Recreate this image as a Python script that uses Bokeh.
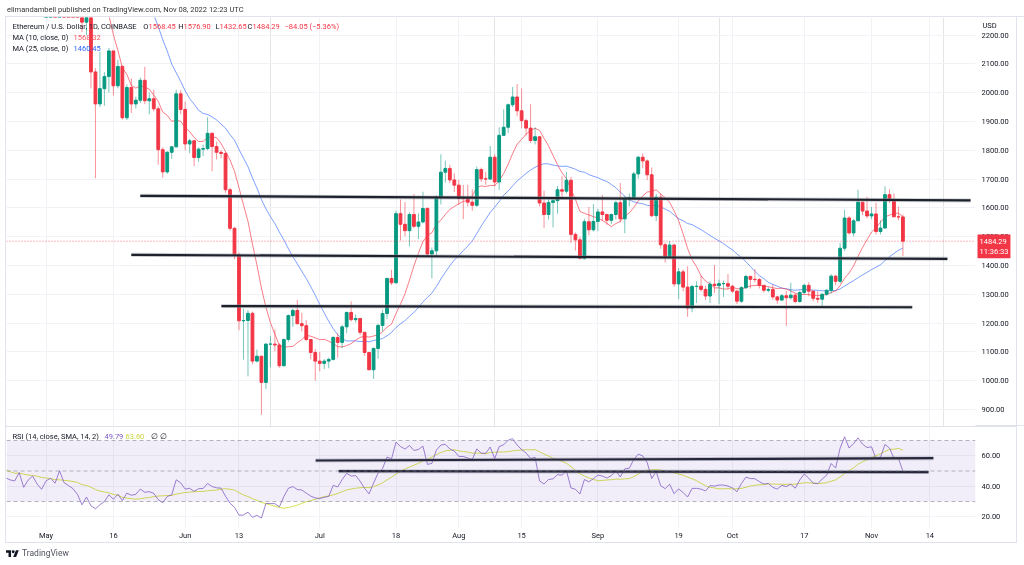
import numpy as np
import pandas as pd
from bokeh.plotting import figure
from bokeh.models import (ColumnDataSource, FixedTicker, NumeralTickFormatter, Span,
                          BoxAnnotation, Label, Div, Grid, Range1d)
from bokeh.layouts import column
from bokeh.embed import file_html
from bokeh.resources import INLINE

# ---------------- data ----------------
start_date = "2022-05-01"          # day 0 of the x axis
warmup_start = "2022-03-15"        # closes before the view, used by the indicators
warmup_closes = [2620, 2770, 2815, 2945, 2950, 2860, 2897, 2971, 3030, 3110, 3106, 3145, 3296, 3331, 3402, 3385, 3282,
                 3449, 3443, 3522, 3521, 3410, 3169, 3233, 3187, 3262, 3210, 2981, 3030, 3118, 3019, 3040, 3061,
                 2992, 3056, 3103, 3077, 2984, 2963, 2936, 2923, 3008, 2808, 2888, 2936, 2817, 2729]

may_close = [2826, 2857, 2783, 2940, 2749, 2695, 2636, 2518, 2245, 2343, 2072, 1961, 2014, 2056, 2145, 2024, 2091,
             1913, 2018, 1961, 1974, 2043, 1972, 1979, 1944, 1802, 1725, 1793, 1812, 1996, 1942]
may_high = [2838, 2887, 2866, 2955, 2955, 2755, 2707, 2640, 2520, 2450, 2440, 2085, 2142, 2071, 2155, 2145, 2114,
            2095, 2028, 2050, 1986, 2052, 2090, 2000, 2010, 1953, 1810, 1797, 1815, 2010, 2009]
may_low = [2715, 2780, 2760, 2780, 2705, 2630, 2590, 2490, 2210, 2200, 2015, 1703, 1950, 1955, 2000, 1990, 2015,
           1907, 1905, 1930, 1945, 1964, 1960, 1925, 1935, 1750, 1705, 1718, 1770, 1810, 1925]

jun_close = [1822, 1833, 1775, 1804, 1806, 1859, 1813, 1793, 1789, 1663, 1529, 1437, 1208, 1209, 1234, 1068, 1085,
             994, 1127, 1127, 1124, 1052, 1143, 1226, 1244, 1198, 1191, 1143, 1098, 1068]
jun_high = [1969, 1840, 1835, 1810, 1820, 1915, 1862, 1830, 1800, 1795, 1670, 1534, 1445, 1250, 1245, 1240, 1108,
            1086, 1130, 1156, 1178, 1130, 1146, 1230, 1250, 1280, 1236, 1210, 1145, 1110]
jun_low = [1800, 1790, 1745, 1760, 1780, 1800, 1727, 1768, 1772, 1652, 1521, 1422, 1175, 1073, 1015, 1057, 1064,
           881, 972, 1047, 1102, 1045, 1050, 1135, 1187, 1195, 1171, 1137, 1074, 1000]

jul_close = [1060, 1068, 1074, 1150, 1133, 1187, 1237, 1212, 1216, 1168, 1098, 1038, 1112, 1192, 1233, 1355, 1340,
             1580, 1543, 1521, 1577, 1536, 1551, 1598, 1440, 1451, 1636, 1724, 1737, 1697, 1679]
jul_high = [1100, 1075, 1080, 1155, 1165, 1193, 1240, 1275, 1230, 1218, 1168, 1100, 1115, 1198, 1247, 1358, 1385,
            1590, 1629, 1620, 1585, 1648, 1581, 1656, 1602, 1463, 1644, 1786, 1764, 1750, 1720]
jul_low = [1033, 1040, 1043, 1070, 1080, 1113, 1165, 1205, 1202, 1158, 1087, 1036, 1006, 1076, 1172, 1214, 1332,
           1337, 1487, 1501, 1466, 1530, 1492, 1546, 1430, 1355, 1432, 1612, 1688, 1686, 1655]

aug_close = [1633, 1632, 1620, 1609, 1733, 1701, 1700, 1776, 1690, 1852, 1880, 1958, 1985, 1937, 1903, 1877, 1834,
             1847, 1617, 1577, 1619, 1625, 1663, 1658, 1696, 1508, 1489, 1424, 1552, 1524, 1553]
aug_high = [1697, 1680, 1680, 1665, 1743, 1740, 1725, 1815, 1786, 1880, 1942, 1962, 2020, 2030, 2015, 1910, 1960,
            1880, 1847, 1660, 1630, 1630, 1676, 1710, 1725, 1708, 1515, 1500, 1562, 1603, 1613]
aug_low = [1610, 1561, 1605, 1590, 1604, 1690, 1680, 1698, 1675, 1662, 1850, 1860, 1950, 1918, 1878, 1852, 1825,
           1820, 1605, 1530, 1560, 1532, 1580, 1632, 1650, 1479, 1452, 1422, 1421, 1505, 1518]

sep_close = [1586, 1577, 1557, 1577, 1618, 1562, 1631, 1636, 1718, 1776, 1763, 1715, 1573, 1637, 1472, 1432, 1471,
             1336, 1378, 1325, 1252, 1327, 1328, 1317, 1294, 1335, 1330, 1337, 1337, 1328]
sep_high = [1597, 1645, 1580, 1580, 1625, 1687, 1640, 1650, 1725, 1780, 1789, 1768, 1740, 1648, 1650, 1480, 1485,
            1475, 1391, 1386, 1397, 1333, 1345, 1365, 1330, 1345, 1402, 1351, 1348, 1370]
sep_low = [1520, 1555, 1541, 1543, 1560, 1550, 1512, 1605, 1630, 1701, 1738, 1697, 1568, 1554, 1458, 1410, 1430,
           1326, 1283, 1310, 1222, 1238, 1270, 1310, 1280, 1270, 1305, 1267, 1291, 1317]

oct_close = [1311, 1276, 1323, 1362, 1352, 1351, 1331, 1314, 1317, 1291, 1280, 1295, 1288, 1297, 1275, 1306, 1331,
             1311, 1286, 1283, 1300, 1314, 1363, 1345, 1460, 1565, 1513, 1555, 1620, 1589, 1572]
oct_high = [1333, 1315, 1328, 1368, 1365, 1388, 1357, 1333, 1325, 1334, 1295, 1301, 1312, 1340, 1302, 1313, 1337,
            1342, 1313, 1311, 1303, 1317, 1370, 1367, 1479, 1593, 1571, 1562, 1663, 1620, 1639]
oct_low = [1305, 1266, 1270, 1318, 1320, 1341, 1320, 1306, 1307, 1281, 1267, 1276, 1190, 1282, 1269, 1271, 1301,
           1293, 1276, 1270, 1254, 1295, 1302, 1331, 1337, 1450, 1508, 1501, 1555, 1575, 1564]

nov_close = [1579, 1518, 1530, 1646, 1627, 1569, 1568.45, 1484.29]
nov_high = [1603, 1618, 1557, 1675, 1665, 1650, 1604, 1576.90]
nov_low = [1561, 1508, 1508, 1528, 1617, 1568, 1557, 1432.65]

tick_dates = ["2022-05-01", "2022-05-16", "2022-06-01", "2022-06-13", "2022-07-01", "2022-07-18", "2022-08-01",
              "2022-08-15", "2022-09-01", "2022-09-19", "2022-10-01", "2022-10-17", "2022-11-01", "2022-11-14"]
tick_labels = ["May", "16", "Jun", "13", "Jul", "18", "Aug", "15", "Sep", "19", "Oct", "17", "Nov", "14"]
price_ticks = [900, 1000, 1100, 1200, 1300, 1400, 1500, 1600, 1700, 1800, 1900, 2000, 2100, 2200]
rsi_ticks = [20, 40, 60]
rsi_levels = [70, 50, 30]

# hand-drawn horizontal lines (start date, start value, end date, end value)
price_line_t0 = ["2022-05-22 00:00", "2022-05-20 00:00", "2022-06-09 02:00"]
price_line_v0 = [1642, 1437, 1259]
price_line_t1 = ["2022-11-23 02:00", "2022-11-17 22:00", "2022-11-10 02:00"]
price_line_v1 = [1626, 1423, 1255]
rsi_line_t0 = ["2022-06-30 02:00", "2022-07-05 05:00"]
rsi_line_v0 = [56.9, 49.9]
rsi_line_t1 = ["2022-11-14 19:00", "2022-11-13 17:00"]
rsi_line_v1 = [58.4, 49.3]

last_price = 1484.29

# ---------------- derived series ----------------
t0 = pd.Timestamp(start_date)


def to_day(s):
    return (pd.Timestamp(s) - t0) / pd.Timedelta(days=1)


closes = may_close + jun_close + jul_close + aug_close + sep_close + oct_close + nov_close
highs = may_high + jun_high + jul_high + aug_high + sep_high + oct_high + nov_high
lows = may_low + jun_low + jul_low + aug_low + sep_low + oct_low + nov_low
opens = [warmup_closes[-1]] + closes[:-1]
days = list(range(len(closes)))

all_close = pd.Series(warmup_closes + closes, dtype=float)
all_days = np.arange(-len(warmup_closes), len(closes))

ma10 = all_close.rolling(10).mean()
ma25 = all_close.rolling(25).mean()

delta = all_close.diff()
gain = delta.clip(lower=0).values
loss = (-delta).clip(lower=0).values


def rma(x, n):
    out = np.full(len(x), np.nan)
    out[n] = np.mean(x[1:n + 1])
    for i in range(n + 1, len(x)):
        out[i] = (out[i - 1] * (n - 1) + x[i]) / n
    return out


rg, rl = rma(gain, 14), rma(loss, 14)
rsi = pd.Series(100 - 100 / (1 + rg / rl))
rsi_ma = rsi.rolling(14).mean()

UP, DN = "#089981", "#f23645"
colors = [UP if c >= o else DN for o, c in zip(opens, closes)]
src = ColumnDataSource(dict(x=days, high=highs, low=lows,
                            top=[max(o, c) for o, c in zip(opens, closes)],
                            bottom=[min(o, c) for o, c in zip(opens, closes)],
                            color=colors))

# ---------------- view geometry (pixels of the 1024x565 picture) ----------------
DAY0_PX, PX_PER_DAY = 45.6, 4.486
FONT = "Roboto"
FS = "7.5px"
TXT = "#131722"
GRID = "#f0f2f6"
BORDER = "#e0e3eb"
# host background: white with the chart's right border line 1011px from the host's left edge
HOST_BG = ("linear-gradient(90deg, #ffffff 1011px, %s 1011px, %s 1012px, #ffffff 1012px)" % (BORDER, BORDER))


def px_x(px):
    return (px - DAY0_PX) / PX_PER_DAY


def px_y(py):
    return 900 + (409 - py) / 0.28801


def px_r(py):
    return 70 - (py - 440) / 1.5256


X0 = px_x(6)
X_EDGE = px_x(975)
tick_days = [to_day(d) for d in tick_dates]


def style_axis(ax, standoff):
    ax.major_label_text_font = FONT
    ax.major_label_text_font_size = FS
    ax.major_label_text_color = TXT
    ax.axis_line_color = None
    ax.major_tick_line_color = None
    ax.major_tick_out = 0
    ax.major_tick_in = 0
    ax.minor_tick_line_color = None
    ax.major_label_standoff = standoff


# ---------------- price panel ----------------
p1 = figure(frame_width=969, frame_height=409, x_range=Range1d(X0, X_EDGE), y_range=Range1d(px_y(426), px_y(17)),
            y_axis_location="right", x_axis_location=None, output_backend="svg",
            toolbar_location=None, title=None, min_border_left=1, min_border_right=42,
            min_border_top=1, min_border_bottom=0)
p1.outline_line_color = None
p1.background_fill_color = "white"
p1.border_fill_alpha = 0
p1.styles = {"outline": "1px solid " + BORDER, "outline-offset": "-1px", "background": HOST_BG}

ya = p1.yaxis[0]
ya.ticker = FixedTicker(ticks=price_ticks)
ya.formatter = NumeralTickFormatter(format="0.00")
style_axis(ya, 6)
p1.ygrid.grid_line_color = GRID
p1.add_layout(Grid(dimension=0, ticker=FixedTicker(ticks=tick_days), grid_line_color=GRID))

p1.line(all_days, ma25, line_color="#2962ff", line_alpha=0.6, line_width=1)
p1.line(all_days, ma10, line_color="#f23645", line_alpha=0.65, line_width=1)

p1.segment(x0="x", y0="high", x1="x", y1="low", source=src, line_color="color", line_alpha=0.55, line_width=1)
p1.vbar(x="x", top="top", bottom="bottom", width=0.62, source=src, fill_color="color", line_color="color",
        line_width=1)

p1.add_layout(Span(location=last_price, dimension="width", line_color="#f23645", line_alpha=0.7,
                   line_dash="1 2", line_width=1))

p1.segment(x0=[to_day(t) for t in price_line_t0], y0=price_line_v0,
           x1=[to_day(t) for t in price_line_t1], y1=price_line_v1,
           line_color="#9598a1", line_alpha=0.45, line_width=4)
p1.segment(x0=[to_day(t) for t in price_line_t0], y0=price_line_v0,
           x1=[to_day(t) for t in price_line_t1], y1=price_line_v1,
           line_color="#1e222d", line_width=2.2)


def lab(p, px, yv, text, color=TXT, align="left"):
    p.add_layout(Label(x=px_x(px), y=yv, text=text, text_font=FONT, text_font_size=FS,
                       text_color=color, text_align=align, text_baseline="middle"))


row1 = px_y(26)
lab(p1, 12, row1, "Ethereum / U.S. Dollar, 1D, COINBASE")
for letter, num, xpos in [("O", "1568.45", 148), ("H", "1576.90", 183), ("L", "1432.65", 219), ("C", "1484.29", 252)]:
    lab(p1, xpos, row1, letter, align="right")
    lab(p1, xpos, row1, num, color=DN)
lab(p1, 284, row1, "\u221284.05 (\u22125.36%)", color=DN)
lab(p1, 12, px_y(36.5), "MA (10, close, 0)")
lab(p1, 73, px_y(36.5), "1568.32", color="#f7525f")
lab(p1, 12, px_y(48), "MA (25, close, 0)")
lab(p1, 73, px_y(48), "1460.45", color="#2962ff")

# labels living in the price-scale area (side panel, so they are not clipped to the frame)
p1.add_layout(Label(x=px_x(982), y=px_y(25), text="USD", text_font=FONT, text_font_size=FS,
                    text_color=TXT, text_align="left", text_baseline="middle"), "right")
p1.add_layout(Label(x=px_x(977), y=px_y(234), text="1484.29\n11:36:33", text_font=FONT,
                    text_font_size=FS, text_color="white", text_align="left", text_baseline="top",
                    background_fill_color="#f23645", padding=(2, 2)), "right")

# ---------------- RSI panel ----------------
p2 = figure(frame_width=969, frame_height=100, x_range=p1.x_range, y_range=Range1d(px_r(527), px_r(427)),
            y_axis_location="right", output_backend="svg", toolbar_location=None, title=None,
            min_border_left=1, min_border_right=42, min_border_top=1, min_border_bottom=16)
p2.outline_line_color = None
p2.background_fill_color = "white"
p2.border_fill_alpha = 0
p2.styles = {"outline": "1px solid " + BORDER, "outline-offset": "-1px", "background": HOST_BG}

xa = p2.xaxis[0]
xa.ticker = FixedTicker(ticks=tick_days)
xa.major_label_overrides = {d: l for d, l in zip(tick_days, tick_labels)}
style_axis(xa, 3)
ra = p2.yaxis[0]
ra.ticker = FixedTicker(ticks=rsi_ticks)
ra.formatter = NumeralTickFormatter(format="0.00")
style_axis(ra, 6)
p2.xgrid.grid_line_color = GRID
p2.ygrid.grid_line_color = GRID

p2.add_layout(BoxAnnotation(bottom=rsi_levels[2], top=rsi_levels[0], fill_color="#7e57c2", fill_alpha=0.1,
                            line_color=None))
for lv in rsi_levels:
    p2.add_layout(Span(location=lv, dimension="width", line_color="#787b86", line_alpha=0.55,
                       line_dash="4 3", line_width=1))

p2.line(all_days, rsi_ma, line_color="#d6e24a", line_width=1)
p2.line(all_days, rsi, line_color="#7e57c2", line_alpha=0.75, line_width=1)

p2.segment(x0=[to_day(t) for t in rsi_line_t0], y0=rsi_line_v0,
           x1=[to_day(t) for t in rsi_line_t1], y1=rsi_line_v1,
           line_color="#9598a1", line_alpha=0.45, line_width=4)
p2.segment(x0=[to_day(t) for t in rsi_line_t0], y0=rsi_line_v0,
           x1=[to_day(t) for t in rsi_line_t1], y1=rsi_line_v1,
           line_color="#1e222d", line_width=2.2)

rrow = px_r(435.5)
lab(p2, 12, rrow, "RSI (14, close, SMA, 14, 2)")
lab(p2, 104, rrow, "49.79", color="#7e57c2")
lab(p2, 125, rrow, "63.60", color="#c8d43a")
lab(p2, 150, rrow, "\u2205")
lab(p2, 159, rrow, "\u2205")

# ---------------- header / footer ----------------
header = Div(text='<div style="font-family:Roboto;font-size:7.5px;line-height:18px;color:#333;'
                  'padding-left:2px;white-space:nowrap">'
                  'elimandambell published on TradingView.com, Nov 08, 2022 12:23 UTC</div>',
             width=1012, height=16, margin=0)
logo = ('<svg width="13" height="9" viewBox="0 0 36 24" style="margin-right:3px">'
        '<path d="M14 22H7V10H0V3h14v19zM28 22h-8l7.5-19h8L28 22z" fill="#131722"/>'
        '<circle cx="20" cy="7" r="4" fill="#131722"/></svg>')
footer = Div(text='<div style="display:flex;align-items:center;height:20px;font-family:Roboto;padding-left:1px;'
                  'font-size:8.5px;color:#50535e;white-space:nowrap">' + logo + 'TradingView</div>',
             width=1012, height=20, margin=0)

# the page is fixed to the window so the unused outer part of the price scale never scrolls in
layout = column(header, p1, p2, footer, spacing=0,
                styles={"position": "fixed", "left": "5px", "top": "0px"})
open("out.html", "w").write(file_html(layout, INLINE))
